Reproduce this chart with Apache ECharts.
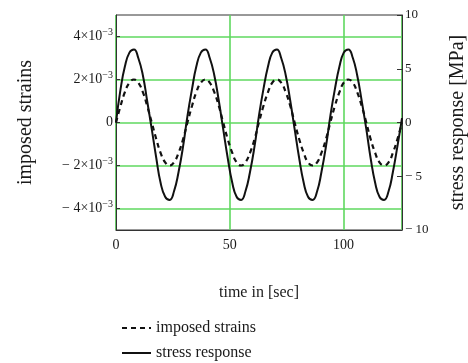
<!DOCTYPE html>
<html>
<head>
<meta charset="utf-8">
<style>html,body{margin:0;padding:0;background:#fff;}#chart{width:468px;height:363px;}</style>
<script src="https://cdn.jsdelivr.net/npm/echarts@6/dist/echarts.min.js"></script>
</head>
<body>
<div id="chart"></div>
<script>
// time samples [sec]
const timeValues = [
  0, 2.0, 3.9, 5.9, 7.9, 9.8, 11.8, 13.7, 15.7, 17.7, 19.6, 21.6, 23.6, 25.5, 27.5, 29.5,
  31.4, 33.4, 35.3, 37.3, 39.3, 41.2, 43.2, 45.2, 47.1, 49.1, 51.1, 53.0, 55.0, 56.9, 58.9, 60.9,
  62.8, 64.8, 66.8, 68.7, 70.7, 72.6, 74.6, 76.6, 78.5, 80.5, 82.5, 84.4, 86.4, 88.4, 90.3, 92.3,
  94.2, 96.2, 98.2, 100.1, 102.1, 104.1, 106.0, 108.0, 110.0, 111.9, 113.9, 115.8, 117.8, 119.8,
  121.7, 123.7, 125.7
];
// imposed strain (dashed, left axis)
const strainValues = [
  0, 0.00077, 0.00141, 0.00185, 0.002, 0.00185, 0.00141, 0.00077,
  0, -0.00077, -0.00141, -0.00185, -0.002, -0.00185, -0.00141, -0.00077,
  0, 0.00077, 0.00141, 0.00185, 0.002, 0.00185, 0.00141, 0.00077,
  0, -0.00077, -0.00141, -0.00185, -0.002, -0.00185, -0.00141, -0.00077,
  0, 0.00077, 0.00141, 0.00185, 0.002, 0.00185, 0.00141, 0.00077,
  0, -0.00077, -0.00141, -0.00185, -0.002, -0.00185, -0.00141, -0.00077,
  0, 0.00077, 0.00141, 0.00185, 0.002, 0.00185, 0.00141, 0.00077,
  0, -0.00077, -0.00141, -0.00185, -0.002, -0.00185, -0.00141, -0.00077,
  0
];
// stress response [MPa] (solid, right axis)
const stressValues = [
  0, 3.1, 5.2, 6.5, 6.8, 6.0, 4.4, 2.0,
  -0.6, -3.3, -5.6, -6.9, -7.2, -6.4, -4.6, -2.2,
  0.6, 3.1, 5.2, 6.5, 6.8, 6.0, 4.4, 2.0,
  -0.6, -3.3, -5.6, -6.9, -7.2, -6.4, -4.6, -2.2,
  0.6, 3.1, 5.2, 6.5, 6.8, 6.0, 4.4, 2.0,
  -0.6, -3.3, -5.6, -6.9, -7.2, -6.4, -4.6, -2.2,
  0.6, 3.1, 5.2, 6.5, 6.8, 6.0, 4.4, 2.0,
  -0.6, -3.3, -5.6, -6.9, -7.2, -6.4, -4.6, -2.2,
  0.4
];
const strainTicks = [-0.004, -0.002, 0, 0.002, 0.004];
const stressTicks = [-10, -5, 0, 5, 10];
const seriesNames = ['imposed strains', 'stress response'];

const serif = "'Liberation Serif', 'Times New Roman', serif";
const green = '#5fd85f';
const ink = '#1a1a1a';

function strainLabel(v) {
  if (Math.abs(v) < 1e-9) return '{b|0}';
  const m = Math.round(Math.abs(v) * 1000);
  return (v < 0 ? '{b|− }' : '') + '{b|' + m + '×10}{s|−3}';
}

function legendAt(name, top) {
  return {
    orient: 'vertical',
    left: 116, top: top,
    itemWidth: 29, itemHeight: 12,
    data: [name],
    itemStyle: { color: 'transparent', borderColor: 'transparent', borderWidth: 0 },
    textStyle: { fontFamily: serif, fontSize: 16, color: ink }
  };
}

const chart = echarts.init(document.getElementById('chart'), null, { renderer: 'canvas' });
chart.setOption({
  animation: false,
  backgroundColor: '#fff',
  grid: {
    left: 116, right: 66, top: 15, bottom: 133,
    outerBoundsMode: 'none',
    containLabel: false,
    show: true, borderColor: '#333', borderWidth: 1, backgroundColor: 'transparent'
  },
  legend: [legendAt(seriesNames[0], 315), legendAt(seriesNames[1], 340)],
  xAxis: {
    type: 'value',
    min: 0, max: 125.7, interval: 50,
    name: 'time in [sec]',
    nameLocation: 'middle', nameGap: 55,
    nameTextStyle: { fontFamily: serif, fontSize: 16, color: ink },
    axisLine: { show: true, onZero: false, lineStyle: { color: '#333', width: 1 } },
    axisTick: { show: false },
    axisLabel: { fontFamily: serif, fontSize: 14, color: ink, margin: 8, showMaxLabel: false },
    splitLine: { show: true, lineStyle: { color: green, width: 1.6 } }
  },
  yAxis: [
    {
      type: 'value',
      min: -0.005, max: 0.005,
      name: 'imposed strains',
      nameLocation: 'middle', nameGap: 80, nameRotate: 90,
      nameTextStyle: { fontFamily: serif, fontSize: 20, color: ink },
      axisLine: { show: true, onZero: false, lineStyle: { color: '#333', width: 1 } },
      axisTick: { show: true, inside: true, length: 4, customValues: strainTicks, lineStyle: { color: '#333' } },
      axisLabel: {
        customValues: strainTicks,
        margin: 3,
        formatter: strainLabel,
        rich: {
          b: { fontFamily: serif, fontSize: 14, color: ink },
          s: { fontFamily: serif, fontSize: 10, color: ink, padding: [0, 0, 9, 0] }
        }
      },
      splitLine: { show: true, lineStyle: { color: green, width: 1.6 } }
    },
    {
      type: 'value',
      min: -10, max: 10, interval: 5,
      position: 'right',
      name: 'stress response [MPa]',
      nameLocation: 'middle', nameGap: 46, nameRotate: 90,
      nameTextStyle: { fontFamily: serif, fontSize: 20, color: ink },
      axisLine: { show: true, onZero: false, lineStyle: { color: '#333', width: 1 } },
      axisTick: { show: true, inside: true, length: 5, customValues: stressTicks, lineStyle: { color: '#333' } },
      axisLabel: {
        customValues: stressTicks,
        margin: 3,
        fontFamily: serif, fontSize: 13, color: ink,
        formatter: (v) => (v < 0 ? '− ' + Math.abs(v) : String(v))
      },
      splitLine: { show: false }
    }
  ],
  series: [
    {
      name: seriesNames[0],
      type: 'line',
      yAxisIndex: 0,
      symbol: 'none',
      smooth: true,
      data: timeValues.map((t, i) => [t, strainValues[i]]),
      lineStyle: { color: '#111', width: 2.2, type: [5, 4] },
      itemStyle: { color: '#111' },
      z: 3
    },
    {
      name: seriesNames[1],
      type: 'line',
      yAxisIndex: 1,
      symbol: 'none',
      smooth: true,
      data: timeValues.map((t, i) => [t, stressValues[i]]),
      lineStyle: { color: '#111', width: 2 },
      itemStyle: { color: '#111' },
      z: 4
    }
  ]
});
</script>
</body>
</html>
